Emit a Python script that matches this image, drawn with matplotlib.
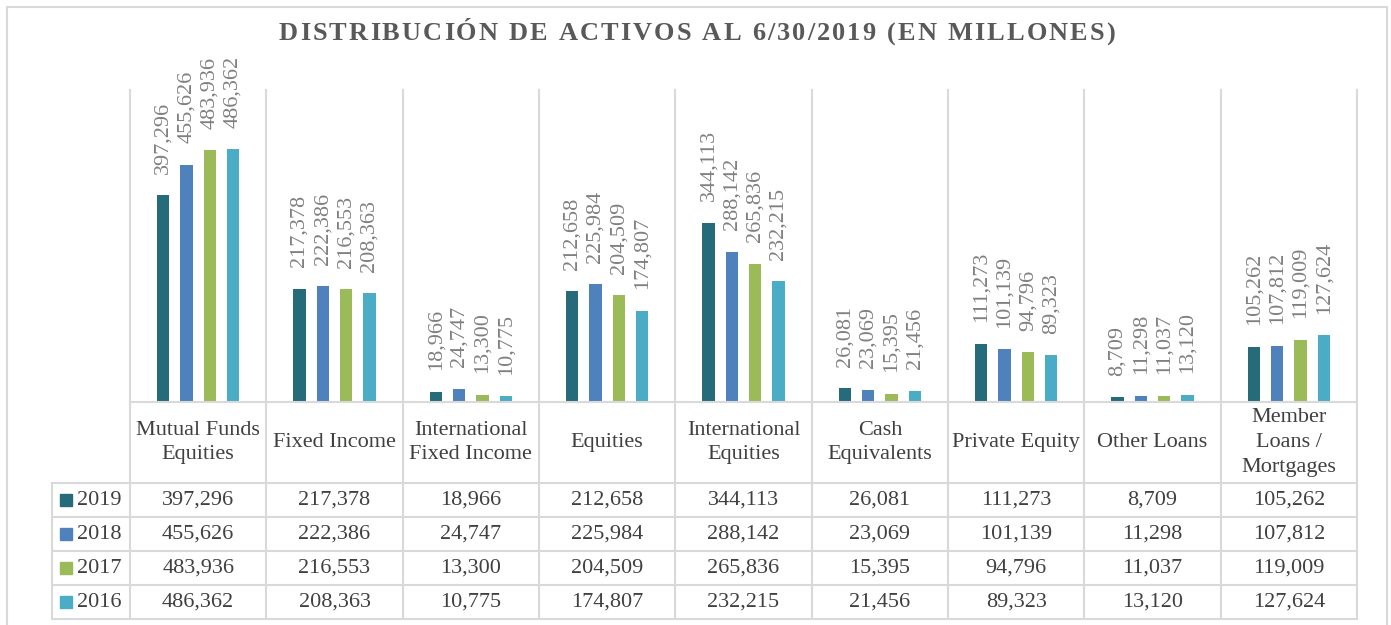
import matplotlib
matplotlib.use('Agg')
import matplotlib.pyplot as plt
import numpy as np
from matplotlib.patches import Rectangle

# data (millions)
categories = ['Mutual Funds\nEquities', 'Fixed Income', 'International\nFixed Income',
              'Equities', 'International\nEquities', 'Cash\nEquivalents',
              'Private Equity', 'Other Loans', 'Member\nLoans /\nMortgages']
years = ['2019', '2018', '2017', '2016']
v2019 = [397296, 217378, 18966, 212658, 344113, 26081, 111273, 8709, 105262]
v2018 = [455626, 222386, 24747, 225984, 288142, 23069, 101139, 11298, 107812]
v2017 = [483936, 216553, 13300, 204509, 265836, 15395, 94796, 11037, 119009]
v2016 = [486362, 208363, 10775, 174807, 232215, 21456, 89323, 13120, 127624]
series = [v2019, v2018, v2017, v2016]
colors = ['#266B7A', '#4F81BD', '#9BBB59', '#4BACC6']
title = 'DISTRIBUCIÓN DE ACTIVOS AL 6/30/2019 (EN MILLONES)'

W, H = 1391, 625
GRID = '#d9d9d9'
TXT = '#404040'
SERIF = 'Liberation Serif'

fig = plt.figure(figsize=(W / 100, H / 100), dpi=100)
fig.patch.set_facecolor('white')


def fx(px):
    return px / W


def fy(py):
    return 1 - py / H


# outer chart border
fig.add_artist(Rectangle((fx(7), fy(640)), fx(1380), (640 - 7) / H,
                         transform=fig.transFigure, fill=False, ec=GRID, lw=1.5))

# plot area
left, right, top, base = 130, 1357, 90, 401.7
cat_w = (right - left) / len(categories)
ax = fig.add_axes([fx(left), fy(base), fx(right - left), (base - top) / H])
x = np.arange(len(categories))
pitch = 0.171
for i, (vals, c) in enumerate(zip(series, colors)):
    xs = x + (i - 1.5) * pitch
    ax.bar(xs, vals, width=0.09, color=c, zorder=3)
    for xi, v in zip(xs, vals):
        ax.annotate(f'{v:,}', (xi, v), xytext=(0, 15.5), textcoords='offset points',
                    rotation=90, ha='center', va='bottom', fontsize=16,
                    family=SERIF, color='#808080', annotation_clip=False)
ax.set_xlim(-0.5, len(categories) - 0.5)
ax.set_ylim(0, 600000)
ax.axis('off')
for b in np.arange(-0.5, len(categories)):
    ax.axvline(b, color=GRID, lw=1.5, clip_on=False, zorder=1)

# data table below the plot
header_h, row_h = 81.6, 34.0
tab_bottom = base + header_h + row_h * len(years)
leg_left = 52
cat_left = -0.5 - (left - leg_left) / cat_w
tab = fig.add_axes([fx(leg_left), fy(tab_bottom), fx(right - leg_left), (tab_bottom - base) / H])
tab.set_xlim(cat_left, len(categories) - 0.5)
tab.set_ylim(tab_bottom - base, 0)
tab.axis('off')

kw = dict(color=GRID, lw=1.5, clip_on=False)
tab.plot([-0.5, len(categories) - 0.5], [0, 0], **kw)
for k in range(len(years) + 1):
    yy = header_h + k * row_h
    tab.plot([cat_left, len(categories) - 0.5], [yy, yy], **kw)
for b in np.arange(-0.5, len(categories)):
    tab.plot([b, b], [0, tab_bottom - base], **kw)
tab.plot([cat_left, cat_left], [header_h, tab_bottom - base], **kw)

for i, name in enumerate(categories):
    tab.text(i, header_h / 2, name, ha='center', va='center', fontsize=16,
             family=SERIF, color=TXT, linespacing=1.42)
    for k, vals in enumerate(series):
        tab.text(i, header_h + (k + 0.5) * row_h, f'{vals[i]:,}', ha='center',
                 va='center', fontsize=16, family=SERIF, color=TXT)

for k, (yr, c) in enumerate(zip(years, colors)):
    yy = header_h + (k + 0.5) * row_h
    tab.plot(cat_left + 14 / cat_w, yy, marker='s', ms=9, color=c, clip_on=False)
    tab.text(cat_left + 25 / cat_w, yy, yr, ha='left', va='center', fontsize=16,
             family=SERIF, color=TXT)

# letter-spaced title, laid out one character at a time
renderer = fig.canvas.get_renderer()
t_left, t_right, t_base = 279, 1115, 40.5
chars = [fig.text(0, fy(t_base), ch, fontsize=19, fontweight='bold', family=SERIF,
                  color='#595959', va='baseline', ha='left') for ch in title]
widths = [t.get_window_extent(renderer).width if ch != ' ' else 7
          for t, ch in zip(chars, title)]
gap = (t_right - t_left - sum(widths)) / (len(title) - 1)
pos = t_left
for t, w in zip(chars, widths):
    t.set_x(fx(pos))
    pos += w + gap

fig.savefig('out.png', dpi=100)
